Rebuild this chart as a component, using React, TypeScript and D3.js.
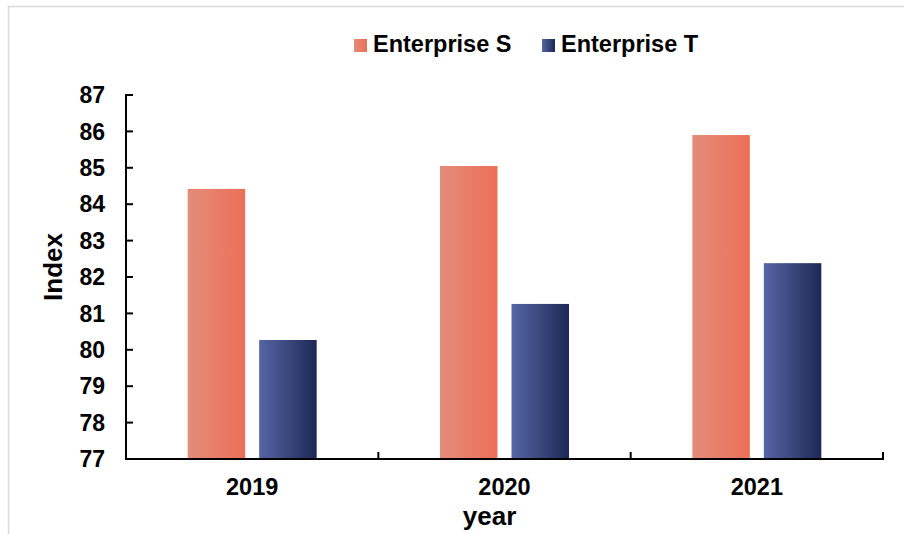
import React from "react";
import * as d3 from "d3";

const categories = ["2019", "2020", "2021"];
const seriesNames = ["Enterprise S", "Enterprise T"];
const enterpriseS = [84.42, 85.05, 85.9];
const enterpriseT = [80.27, 81.26, 82.38];
const yTicks = [77, 78, 79, 80, 81, 82, 83, 84, 85, 86, 87];

const W = 904;
const H = 534;
const left = 126;
const right = 883;
const top = 95;
const bottom = 459;

const gradients = [
  { id: "gS", from: "#e48c7b", to: "#ed6f57" },
  { id: "gT", from: "#5665a4", to: "#1c2955" },
];

export default function App() {
  const x0 = d3.scaleBand<string>().domain(categories).range([left, right]).padding(0);
  const bw = x0.bandwidth();
  const group = 129;
  const x1 = d3
    .scaleBand<string>()
    .domain(seriesNames)
    .range([(bw - group) / 2, (bw + group) / 2])
    .paddingInner(14 / 71.5)
    .paddingOuter(0);
  const y = d3.scaleLinear().domain([77, 87]).range([bottom, top]);
  const values = [enterpriseS, enterpriseT];
  const font = "'Liberation Sans', Arial, sans-serif";

  return (
    <svg
      width={W}
      height={H}
      style={{ position: "fixed", left: 0, top: 0, background: "#fff" }}
      fontFamily={font}
      fontWeight="bold"
    >
      <defs>
        {gradients.map((g) => (
          <linearGradient key={g.id} id={g.id} x1="0" x2="1" y1="0" y2="0">
            <stop offset="0%" stopColor={g.from} />
            <stop offset="100%" stopColor={g.to} />
          </linearGradient>
        ))}
      </defs>
      <rect x={8.5} y={6.5} width={1000} height={1000} fill="#fff" stroke="#d9d9d9" strokeWidth={1.5} />

      {/* bars */}
      {categories.map((c, i) => (
        <g key={c} transform={`translate(${x0(c)},0)`}>
          {seriesNames.map((s, j) => (
            <rect
              key={s}
              x={x1(s)}
              y={y(values[j][i])}
              width={x1.bandwidth()}
              height={y(77) - y(values[j][i])}
              fill={`url(#${gradients[j].id})`}
            />
          ))}
        </g>
      ))}

      {/* y axis */}
      <line x1={left} x2={left} y1={top - 1} y2={bottom + 1} stroke="#000" strokeWidth={2} />
      {yTicks.map((t) => (
        <g key={t}>
          <line x1={left} x2={left + 7} y1={y(t)} y2={y(t)} stroke="#000" strokeWidth={2} />
          <text x={105} y={y(t)} dy="0.36em" textAnchor="end" fontSize={23} fill="#000">
            {t}
          </text>
        </g>
      ))}

      {/* x axis */}
      <line x1={left - 1} x2={right + 1} y1={bottom} y2={bottom} stroke="#000" strokeWidth={2} />
      {[...categories.slice(1).map((c) => x0(c) as number), right].map((xv, k) => (
        <line key={k} x1={xv} x2={xv} y1={bottom} y2={bottom - 7} stroke="#000" strokeWidth={2} />
      ))}
      {categories.map((c) => (
        <text key={c} x={(x0(c) as number) + bw / 2} y={495} textAnchor="middle" fontSize={23.5} fill="#000">
          {c}
        </text>
      ))}

      {/* axis titles */}
      <text x={(left + right) / 2 - 15} y={525} textAnchor="middle" fontSize={26} fill="#000">
        year
      </text>
      <text transform={`translate(62,267) rotate(-90)`} textAnchor="middle" fontSize={26} fill="#000">
        Index
      </text>

      {/* legend */}
      {seriesNames.map((s, j) => {
        const lx = [354, 542][j];
        return (
          <g key={s}>
            <rect x={lx} y={39} width={13} height={13} fill={`url(#${gradients[j].id})`} />
            <text x={lx + 19} y={52} fontSize={23.5} fill="#000">
              {s}
            </text>
          </g>
        );
      })}
    </svg>
  );
}
